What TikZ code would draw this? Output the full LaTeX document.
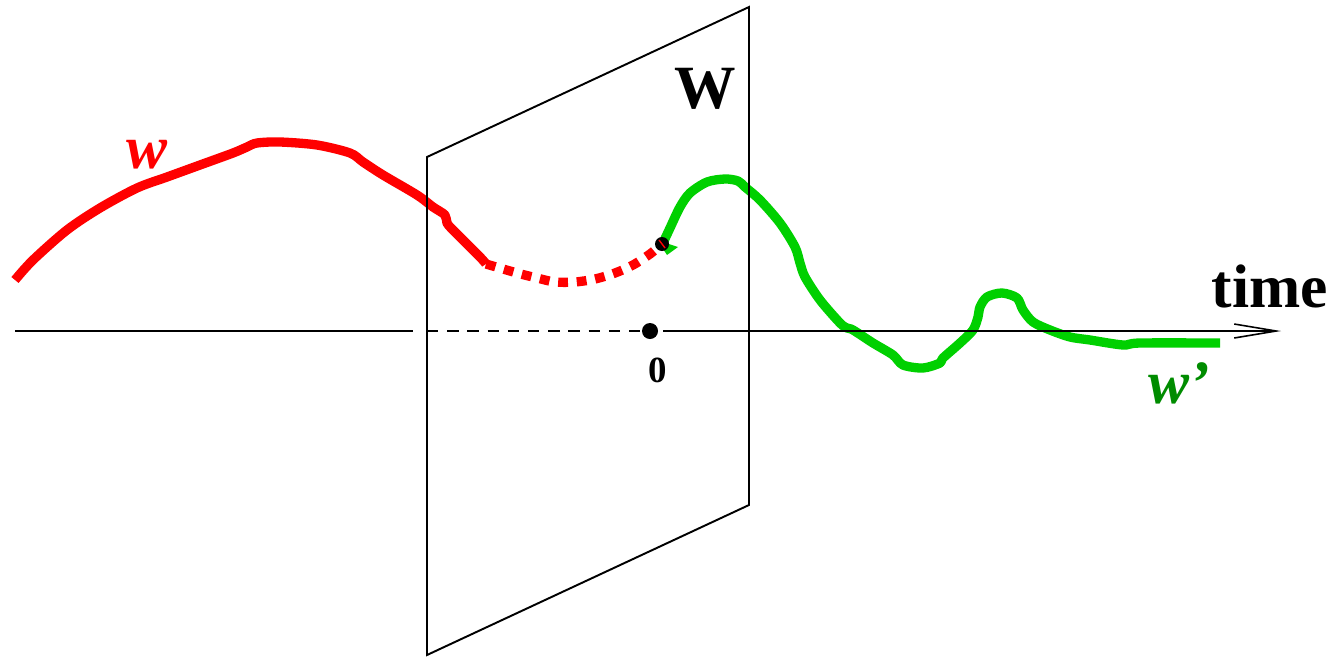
\documentclass[tikz,border=0pt]{standalone}
\usepackage{fontspec}
\setmainfont{Liberation Serif}
\usetikzlibrary{arrows.meta}
\definecolor{curvegreen}{RGB}{0,208,0}
\definecolor{labelgreen}{RGB}{0,140,0}
\tikzset{
  thinline/.style={line width=1.1pt,black},
  redcurve/.style={line width=5.3pt,red,line cap=butt,line join=round},
  greencurve/.style={line width=5.3pt,curvegreen,line cap=butt,line join=round},
  bigbold/.style={font=\fontsize{35}{40}\selectfont\bfseries,inner sep=0pt,anchor=base},
}
\begin{document}
\begin{tikzpicture}[x=0.02cm,y=-0.02cm]
\useasboundingbox (0,0) rectangle (1334,656);
% curves
\draw[redcurve] plot[smooth,tension=0.5] coordinates {(15,280) (33,260) (67,230) (100,208) (137,188) (167,177) (200,165) (233,153) (247,147) (257,143) (280,142) (317,145) (350,153) (363,162) (383,175) (417,195) (433,207) (445,215) (447,223) (453,230) (480,257) (486,264)};
\draw[redcurve,dash pattern=on 5.6pt off 5pt] plot[smooth,tension=0.5] coordinates {(486,264) (517,273) (537,278) (555,282) (575,282) (595,279) (615,273) (633,265) (650,254) (662,244)};
\draw[greencurve] plot[smooth,tension=0.5] coordinates {(663,243) (670,228) (680,207) (690,193) (707,182) (725,179) (738,181) (745,187) (760,200) (780,223) (795,247) (800,263) (805,277) (820,300) (840,323) (847,328) (853,330) (873,343) (893,355) (903,365) (923,368) (940,363) (943,358) (960,343) (973,330) (978,317) (980,307) (987,297) (1002,293) (1017,298) (1023,310) (1033,322) (1050,330) (1070,337) (1090,340) (1123,345) (1140,343) (1220,343)};
\fill[curvegreen] (657,240) -- (678,247) -- (667,255) -- cycle;
% junction point
\fill[black] (662,244) coordinate (junction) circle (7);
\draw[red,line width=0.8pt] (659,240) -- (665,248);
% plane
\coordinate (p1) at (427,157);
\coordinate (p2) at (749,7);
\coordinate (p3) at (749,505);
\coordinate (p4) at (427,655);
\draw[thinline,line join=miter] (p1) -- (p2) -- (p3) -- (p4) -- cycle;
% time axis
\coordinate (a0) at (15,331);
\coordinate (a1) at (413,331);
\coordinate (a2) at (427,331);
\coordinate (a3) at (640,331);
\coordinate (a4) at (663,331);
\coordinate (a5) at (1281,331);
\draw[thinline] (a0) -- (a1);
\draw[thinline,dash pattern=on 6.5pt off 5pt] (a2) -- (a3);
\draw[thinline,-{Straight Barb[length=0.84cm,width=0.28cm,line width=0.9pt]}] (a4) -- (a5);
\fill[black] (650,331) coordinate (origin) circle (8);
% labels
\node[bigbold] (lw) at (705,108) {W};
\node[bigbold] (ltime) at (1270,307) {time};
\node[font=\fontsize{21}{24}\selectfont\bfseries,inner sep=0pt,anchor=base] (lzero) at (658,382) {0};
\node[font=\fontsize{35}{40}\selectfont\bfseries\itshape,text=red,inner sep=0pt,anchor=base] (lred) at (147,168) {w};
\node[font=\fontsize{35}{40}\selectfont\bfseries\itshape,text=labelgreen,inner sep=0pt,anchor=base] (lgreen) at (1179,403) {w’};
\end{tikzpicture}
\end{document}
